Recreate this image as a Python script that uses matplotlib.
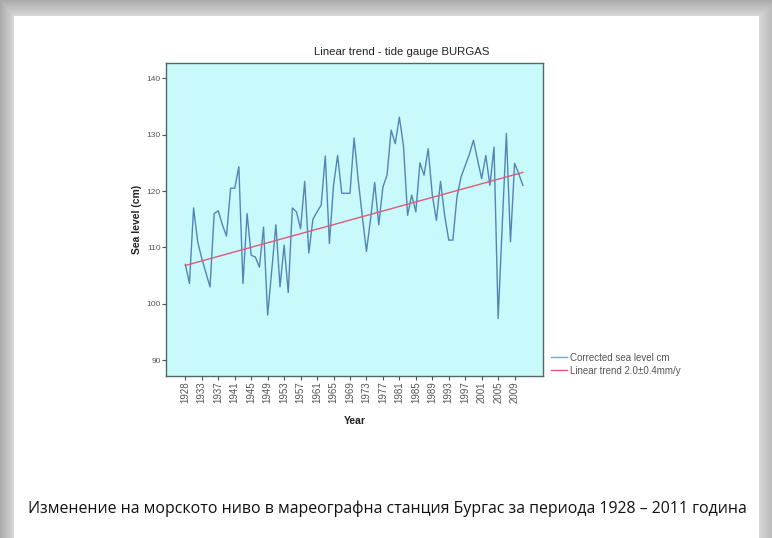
import numpy as np
import matplotlib
matplotlib.use("Agg")
import matplotlib.pyplot as plt
from matplotlib.lines import Line2D

# ---- data ----
tick_labels = ["1928", "1933", "1937", "1941", "1945", "1949", "1953", "1957",
               "1961", "1965", "1969", "1973", "1977", "1981", "1985", "1989",
               "1993", "1997", "2001", "2005", "2009"]
sea_level = [107.0, 103.6, 117.0, 111.0, 108.0, 105.5, 103.0, 116.0, 116.5, 114.0,
             112.0, 120.5, 120.5, 124.3, 103.6, 116.0, 108.6, 108.3, 106.5, 113.6,
             98.0, 106.0, 114.0, 103.0, 110.4, 102.0, 117.0, 116.3, 113.3, 121.7,
             109.0, 115.0, 116.3, 117.5, 126.2, 110.7, 121.0, 126.3, 119.6, 119.6,
             119.6, 129.4, 122.0, 115.5, 109.3, 115.0, 121.5, 114.0, 120.7, 122.8,
             130.8, 128.4, 133.1, 128.0, 115.7, 119.3, 116.3, 125.0, 122.8, 127.5,
             119.3, 114.8, 121.7, 115.7, 111.3, 111.3, 119.0, 122.5, 124.5, 126.5,
             129.0, 125.5, 122.2, 126.3, 121.0, 127.8, 97.4, 114.0, 130.2, 111.0,
             124.9, 123.1, 121.0]
trend_start = 106.8
trend_end = 123.3
yticks = [90, 100, 110, 120, 130, 140]

title = "Linear trend - tide gauge BURGAS"
legend_labels = ["Corrected sea level cm", "Linear trend 2.0\u00b10.4mm/y"]
caption = ("Изменение на морското ниво в мареографна станция Бургас "
           "за периода 1928 \u2013 2011 година")

W, H = 772, 538
fig = plt.figure(figsize=(W / 100, H / 100), dpi=100)
fig.patch.set_facecolor("white")

# ---- page shadow background ----
bg = fig.add_axes([0, 0, 1, 1], zorder=-10)
yy, xx = np.mgrid[0:H, 0:W]
left, top, right = 14.0, 16.0, 758.0
d = np.zeros((H, W))
d = np.maximum(d, np.clip((left - xx) / left, 0, 1))
d = np.maximum(d, np.clip((top - yy) / top, 0, 1))
d = np.maximum(d, 0.7 * np.clip((xx - right) / (W - right), 0, 1))
shade = 1.0 - 0.33 * (0.45 + 0.55 * d) * (d > 0)
img = np.dstack([shade, shade, shade])
bg.imshow(img, extent=[0, W, H, 0], aspect="auto", interpolation="bilinear")
bg.set_xlim(0, W)
bg.set_ylim(H, 0)
bg.axis("off")

# ---- chart axes ----
ax_l, ax_r, ax_t, ax_b = 166, 543, 63, 376
ax = fig.add_axes([ax_l / W, 1 - ax_b / H, (ax_r - ax_l) / W, (ax_b - ax_t) / H])
ax.set_facecolor("#c8fafb")

x = np.arange(len(sea_level))
ax.plot(x, sea_level, color="#5285b6", lw=1.0, zorder=3)
ax.plot([x[0], x[-1]], [trend_start, trend_end], color="#e05a78", lw=1.0, zorder=4)

ax.set_xlim(-4.7, 86.9)
ax.set_ylim(87.2, 142.7)
ax.set_yticks(yticks)
ax.set_yticklabels([str(v) for v in yticks], fontsize=6.0, color="#555555",
                   family="Liberation Sans")
ax.set_xticks(x[::4][:len(tick_labels)])
ax.set_xticklabels(tick_labels, rotation=90, fontsize=7.0, color="#555555",
                   family="Liberation Sans")
ax.tick_params(axis="both", direction="out", length=3, width=0.8, color="#405858",
               pad=0.8)
for s in ax.spines.values():
    s.set_color("#556666")
    s.set_linewidth(1.0)

ax.set_xlabel("Year", fontsize=7.5, fontweight="bold", family="Liberation Sans",
              color="#222222", labelpad=9)
ax.set_ylabel("Sea level (cm)", fontsize=7.5, fontweight="bold",
              family="Liberation Sans", color="#222222", labelpad=3)
fig.text(402 / W, 1 - 52 / H, title, fontsize=8.2, family="Liberation Sans",
         color="#222222", ha="center", va="center")

handles = [Line2D([], [], color="#7da4cc", lw=1.0),
           Line2D([], [], color="#e05a78", lw=1.0)]
fig.legend(handles, legend_labels, loc="upper left",
           bbox_to_anchor=(544 / W, 1 - 346 / H), frameon=False,
           prop={"family": "Liberation Sans", "size": 7.0},
           labelcolor="#555555", handlelength=1.7, handletextpad=0.3,
           labelspacing=0.3, borderpad=0.2)

fig.text(28 / W, 1 - 509 / H, caption, fontsize=11.4, family="Open Sans",
         color="#111111", va="center", ha="left")

fig.savefig("out.png", dpi=100)
